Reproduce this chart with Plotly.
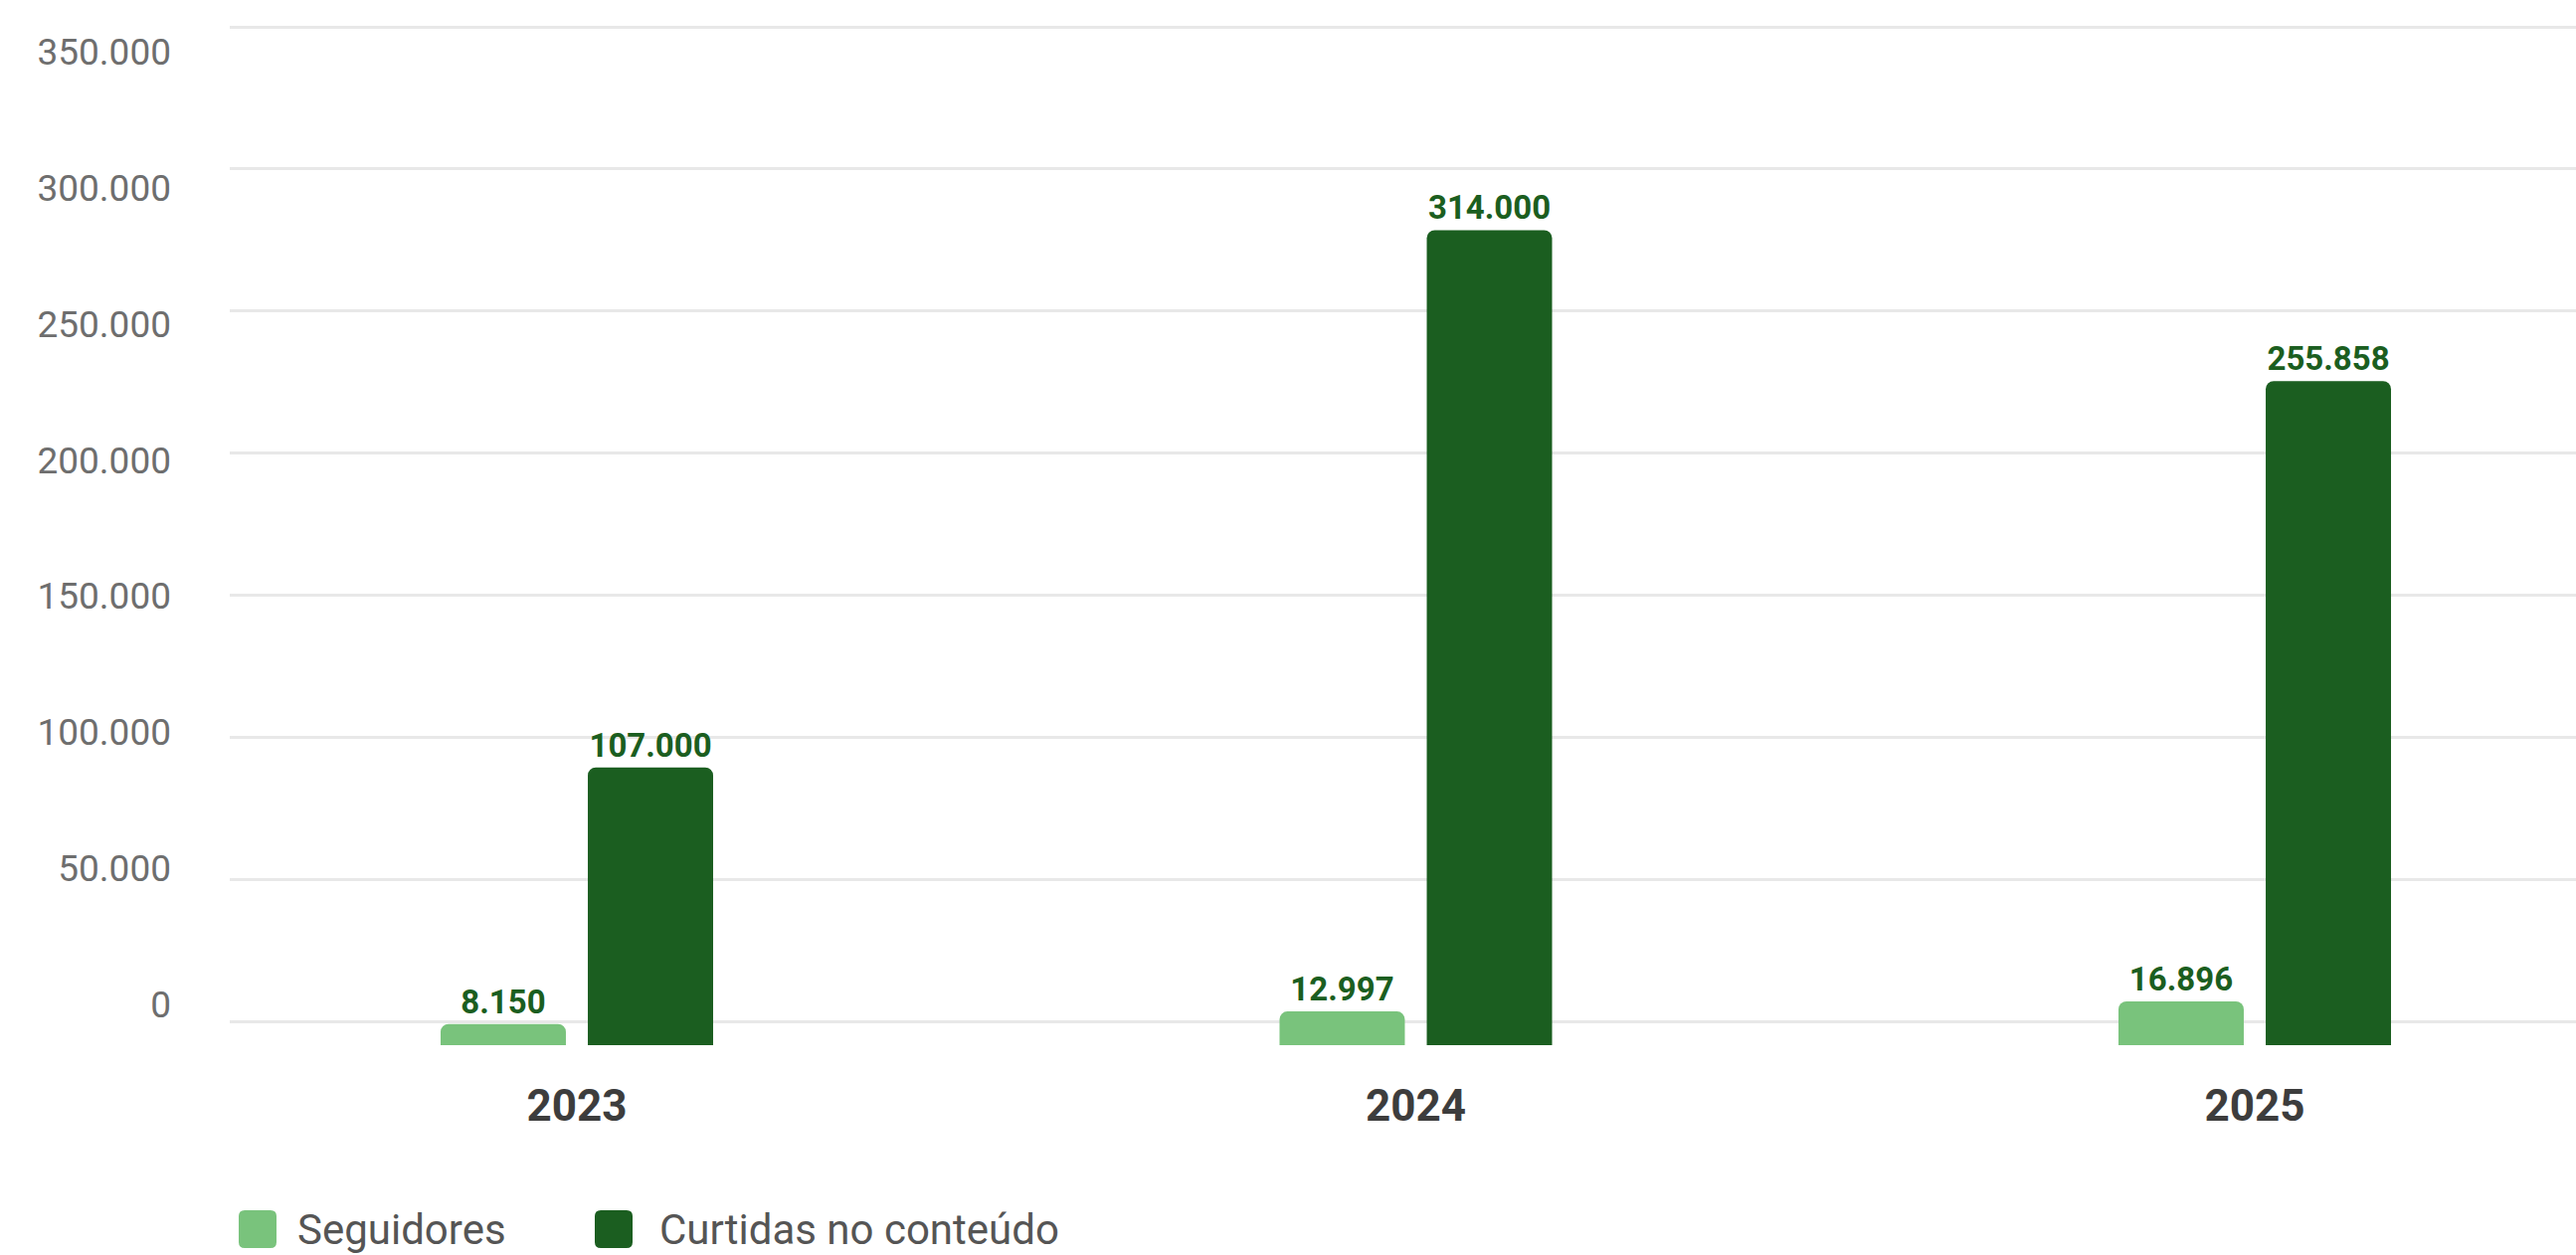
import plotly.graph_objects as go

# ---- data ----
years = ["2023", "2024", "2025"]
seguidores = [8150, 12997, 16896]
curtidas = [107000, 314000, 255858]
y_tick_values = [0, 50000, 100000, 150000, 200000, 250000, 300000, 350000]
series_names = ["Seguidores", "Curtidas no conteúdo"]

# ---- layout helpers (pixel geometry) ----
W_FIG, H_FIG = 2590, 1262
L, R = 231, 0
PLOT_TOP, PLOT_BOTTOM = 10, 1060
W = W_FIG - L - R
H = PLOT_BOTTOM - PLOT_TOP

LIGHT = "#79c37c"
DARK = "#1b5e20"


def yrange(zero_px, px_per_unit):
    r0 = -(PLOT_BOTTOM - zero_px) / px_per_unit
    return [r0, r0 + H / px_per_unit]


def px_x(px):
    return (px - L) / W


def px_y(py):
    return (PLOT_BOTTOM - py) / H


# x axis: category centres at ~580 px with 843.5 px spacing
cat_sp = 843.5
x0 = -(580 - L) / cat_sp
x1 = x0 + W / cat_sp

label_font = dict(family="Roboto", size=33, color=DARK, weight="bold")

fig = go.Figure()

fig.add_trace(go.Bar(
    x=years, y=seguidores, name=series_names[0],
    marker=dict(color=LIGHT, cornerradius=8, line=dict(width=0)),
    texttemplate="%{y:,.0f}", textposition="outside",
    outsidetextfont=label_font,
    cliponaxis=False, showlegend=False, yaxis="y",
))
fig.add_trace(go.Bar(
    x=years, y=curtidas, name=series_names[1],
    marker=dict(color=DARK, cornerradius=8, line=dict(width=0)),
    texttemplate="%{y:,.0f}", textposition="outside",
    outsidetextfont=label_font,
    cliponaxis=False, showlegend=False, yaxis="y",
))
# invisible helper traces so the overlay axes (grid / labels) are drawn
fig.add_trace(go.Scatter(x=years, y=curtidas, yaxis="y2", mode="markers",
                         marker=dict(opacity=0), hoverinfo="skip", showlegend=False))
fig.add_trace(go.Scatter(x=years, y=curtidas, yaxis="y3", mode="markers",
                         marker=dict(opacity=0), hoverinfo="skip", showlegend=False))

fig.update_layout(
    width=W_FIG, height=H_FIG,
    margin=dict(l=L, r=R, t=PLOT_TOP, b=H_FIG - PLOT_BOTTOM, pad=0),
    paper_bgcolor="white", plot_bgcolor="white",
    separators=",.",
    barmode="group", bargap=0.649, bargroupgap=0.149,
    font=dict(family="Roboto"),
    showlegend=False,
    xaxis=dict(
        type="category", range=[x0, x1], showgrid=False, zeroline=False,
        showline=False, ticks="",
        tickfont=dict(family="Roboto", size=44, color="#3d3d3d", weight="bold"),
        ticklabelstandoff=22,
    ),
    # bars axis (hidden)
    yaxis=dict(range=yrange(1051, 0.00261), showgrid=False, zeroline=False,
               showticklabels=False, showline=False, ticks=""),
    # gridline axis
    yaxis2=dict(range=yrange(1027, 1000 / 350000), overlaying="y",
                tickvals=y_tick_values, showgrid=True, gridcolor="#e8e8e8",
                gridwidth=3, zeroline=False, showticklabels=False, showline=False,
                ticks=""),
    # tick label axis
    yaxis3=dict(range=yrange(1010, 958 / 350000), overlaying="y",
                tickvals=y_tick_values, tickformat=",.0f", showgrid=False,
                zeroline=False, showline=False, ticks="",
                tickfont=dict(family="Roboto", size=37, color="#6e6e6e"),
                ticklabelstandoff=58, side="left"),
)

# custom legend (large rounded swatches)
legend_items = [(series_names[0], LIGHT, 259, 297), (series_names[1], DARK, 617, 661)]
s = 19  # half size in px
r = 6
path = (f"M{-s + r},{-s} L{s - r},{-s} Q{s},{-s} {s},{-s + r} L{s},{s - r} Q{s},{s} {s - r},{s} "
        f"L{-s + r},{s} Q{-s},{s} {-s},{s - r} L{-s},{-s + r} Q{-s},{-s} {-s + r},{-s} Z")
for name, col, sx, tx in legend_items:
    fig.add_shape(type="path", xref="paper", yref="paper",
                  xsizemode="pixel", ysizemode="pixel",
                  xanchor=px_x(sx), yanchor=px_y(1236), path=path,
                  fillcolor=col, line=dict(width=0))
    fig.add_annotation(x=px_x(tx), y=px_y(1236), xref="paper", yref="paper",
                       text=name, showarrow=False, xanchor="left", yanchor="middle",
                       font=dict(family="Roboto", size=42, color="#555555"))

fig.write_html("out.html", config={"displayModeBar": False},
               post_script="document.body.style.margin='0';document.body.style.overflow='hidden';")
